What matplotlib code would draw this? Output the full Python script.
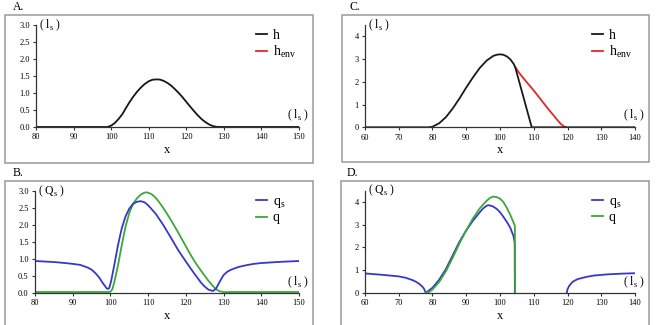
import numpy as np
import matplotlib
matplotlib.use("Agg")
import matplotlib.pyplot as plt
from matplotlib.patches import Rectangle

plt.rcParams["font.family"] = ["Liberation Serif", "DejaVu Serif"]
plt.rcParams["mathtext.fontset"] = "custom"
plt.rcParams["mathtext.rm"] = "Liberation Serif"

W, H = 658, 325

# ---- panel A: h (envelope coincides with h) ----
a_x = [80, 99, 100, 101, 102, 103, 104, 105, 106, 107, 108, 109, 110, 111, 112,
       113, 114, 115, 116, 117, 118, 119, 120, 121, 122, 123, 124, 125, 126,
       127, 128, 129, 150]
a_h = [0, 0, 0.04, 0.12, 0.24, 0.38, 0.57, 0.75, 0.91, 1.05, 1.17, 1.27, 1.345,
       1.39, 1.40, 1.395, 1.355, 1.295, 1.215, 1.11, 1.0, 0.875, 0.74, 0.605,
       0.475, 0.35, 0.24, 0.15, 0.08, 0.03, 0.005, 0, 0]

# ---- panel C: h and h_env ----
c_x = [60, 78.8, 80, 82, 84, 86, 88, 90, 92, 94, 96, 98, 99, 100, 101, 102, 103,
       104, 104.5, 109.4, 140]
c_h = [0, 0, 0.025, 0.18, 0.45, 0.83, 1.27, 1.75, 2.2, 2.61, 2.93, 3.14, 3.19,
       3.21, 3.19, 3.12, 3.0, 2.8, 2.65, 0, 0]
c_env_x = [104.5, 106, 108, 110, 112, 114, 115, 116, 117, 118, 119, 119.5]
c_env = [2.65, 2.33, 1.97, 1.62, 1.24, 0.86, 0.68, 0.5, 0.32, 0.15, 0.03, 0]

# ---- panel B: q_s and q ----
b_qs_x = [80, 85, 88, 90, 92, 94, 95, 96, 97, 98, 99, 99.3, 99.7, 100.2, 101,
          102, 103, 104, 105, 106, 107, 108, 109, 110, 112, 114, 116, 118, 120,
          122, 124, 125, 126, 127.2, 128, 129, 130, 131, 132, 134, 136, 138,
          140, 145, 150]
b_qs = [0.935, 0.905, 0.875, 0.85, 0.82, 0.74, 0.68, 0.58, 0.45, 0.28, 0.13,
        0.11, 0.14, 0.35, 0.8, 1.4, 1.9, 2.25, 2.48, 2.62, 2.68, 2.70, 2.67,
        2.58, 2.33, 2.0, 1.63, 1.25, 0.92, 0.6, 0.3, 0.18, 0.09, 0.05, 0.12,
        0.33, 0.52, 0.62, 0.68, 0.76, 0.81, 0.85, 0.875, 0.91, 0.935]
b_q_x = [80, 99.5, 100, 100.5, 101, 102, 103, 104, 105, 106, 107, 108, 109,
         109.5, 110, 111, 112, 113, 114, 115, 116, 117, 118, 119, 120, 121, 122,
         123, 124, 125, 126, 127, 128, 129, 130, 150]
b_q = [0.02, 0.02, 0.03, 0.1, 0.3, 0.8, 1.4, 1.95, 2.35, 2.62, 2.78, 2.89,
       2.95, 2.96, 2.95, 2.9, 2.8, 2.66, 2.5, 2.33, 2.15, 1.96, 1.77, 1.57,
       1.37, 1.17, 0.98, 0.81, 0.65, 0.5, 0.35, 0.22, 0.1, 0.04, 0.02, 0.02]

# ---- panel D: q_s and q ----
d_qs_x = [60, 65, 70, 72, 74, 75, 76, 77, 77.5, 78, 78.5, 80, 82, 84, 86, 88,
          90, 92, 94, 95, 96, 96.5, 97, 98, 99, 100, 101, 102, 103, 104, 104.35,
          104.4, np.nan, 119.8, 120, 120.5, 121.5, 123, 125.7, 128, 132, 136, 140]
d_qs = [0.85, 0.79, 0.72, 0.66, 0.56, 0.49, 0.40, 0.27, 0.17, 0.0, 0.05, 0.22,
        0.58, 1.05, 1.65, 2.25, 2.75, 3.18, 3.55, 3.72, 3.83, 3.86, 3.85, 3.8,
        3.7, 3.55, 3.35, 3.13, 2.88, 2.5, 2.2, 0, np.nan, 0, 0.15, 0.3, 0.48,
        0.6, 0.7, 0.76, 0.81, 0.84, 0.86]
d_q_x = [78, 79, 80, 82, 84, 86, 88, 90, 92, 94, 96, 97, 98, 99, 100, 101, 102,
         103, 104, 104.4, 104.5]
d_q = [0, 0.03, 0.14, 0.48, 0.95, 1.55, 2.18, 2.75, 3.28, 3.72, 4.05, 4.18,
       4.24, 4.22, 4.15, 4.0, 3.75, 3.45, 3.1, 2.95, 0]

BLACK = "#1a1a1a"
RED = "#e3262a"
BLUE = "#3838c8"
GREEN = "#3aa83a"
FRAME = "#9a9a9a"


def px_rect(l, t, r, b):
    return [l / W, 1 - b / H, (r - l) / W, (b - t) / H]


def style_axes(ax, xlim, xticks, ylim, yticks, yfmt):
    ax.set_xlim(*xlim)
    ax.set_ylim(*ylim)
    ax.set_xticks(xticks)
    ax.set_yticks(yticks)
    ax.set_yticklabels([yfmt.format(v) for v in yticks])
    for side in ("top", "right"):
        ax.spines[side].set_visible(False)
    for side in ("left", "bottom"):
        ax.spines[side].set_color("#333333")
        ax.spines[side].set_linewidth(0.9)
    ax.tick_params(direction="out", length=2.5, width=0.8, pad=2,
                   labelsize=6, color="#333333")
    ax.set_xlabel("x", fontsize=9, labelpad=2)
    ax.patch.set_alpha(0)


def unit_text(ax, ylab, xpos):
    ax.text(0.012, 1.0, "( " + ylab + " )", transform=ax.transAxes,
            fontsize=8.5, va="center", ha="left")
    ax.text(xpos[0], xpos[1], "( l$_\\mathregular{s}$ )", transform=ax.transAxes,
            fontsize=8.5, va="center", ha="left", clip_on=False)


fig = plt.figure(figsize=(W / 100, H / 100), dpi=100)

# gray frames around panels
for l, t, r, b in [(5, 15, 313, 163), (342, 15, 649, 162),
                   (5, 181, 313, 327), (341, 181, 649, 327)]:
    fig.add_artist(Rectangle((l / W, 1 - b / H), (r - l) / W, (b - t) / H,
                             transform=fig.transFigure, fill=False,
                             edgecolor=FRAME, linewidth=1.1))

for lab, x, y in [("A.", 13, 7.5), ("C.", 350, 7.5), ("B.", 13, 172.7), ("D.", 347, 172.7)]:
    fig.text(x / W, 1 - y / H, lab, fontsize=8.5, va="center", ha="left")

leg_kw = dict(loc="upper left", frameon=False, fontsize=10, handlelength=0.8,
              handletextpad=0.4, labelspacing=0.1, borderpad=0, borderaxespad=0)

# A
axA = fig.add_axes(px_rect(36, 25, 299, 127))
axA.plot(a_x, a_h, color=RED, lw=0.6, label="h$_\\mathregular{env}$")
axA.plot(a_x, a_h, color=BLACK, lw=1.3, label="h")
style_axes(axA, (80, 150), range(80, 151, 10), (0, 3.0), np.arange(0, 3.01, 0.5), "{:.1f}")
hs, ls = axA.get_legend_handles_labels()
leg = axA.legend(hs[::-1], ls[::-1], bbox_to_anchor=(0.837, 0.96), **leg_kw)
for line in leg.get_lines():
    line.set_linewidth(1.3)
unit_text(axA, "l$_\\mathregular{s}$", (0.954, 0.118))

# C
axC = fig.add_axes(px_rect(365, 25, 635, 127.3))
axC.plot(c_env_x, c_env, color=RED, lw=1.3, label="h$_\\mathregular{env}$")
axC.plot(c_x, c_h, color=BLACK, lw=1.3, label="h")
style_axes(axC, (60, 140), range(60, 141, 10), (0, 4.5), [0, 1, 2, 3, 4], "{:d}")
hs, ls = axC.get_legend_handles_labels()
axC.legend(hs[::-1], ls[::-1], bbox_to_anchor=(0.841, 0.96), **leg_kw)
unit_text(axC, "l$_\\mathregular{s}$", (0.956, 0.12))

# B
axB = fig.add_axes(px_rect(35, 191, 299, 292.7))
axB.plot(b_q_x, b_q, color=GREEN, lw=1.3, label="q")
axB.plot(b_qs_x, b_qs, color=BLUE, lw=1.3, label="q$_\\mathregular{s}$")
style_axes(axB, (80, 150), range(80, 151, 10), (0, 3.0), np.arange(0, 3.01, 0.5), "{:.1f}")
hs, ls = axB.get_legend_handles_labels()
axB.legend(hs[::-1], ls[::-1], bbox_to_anchor=(0.837, 0.96), **leg_kw)
unit_text(axB, "Q$_\\mathregular{s}$", (0.954, 0.098))

# D
axD = fig.add_axes(px_rect(365, 190.7, 635, 292.7))
axD.plot(d_qs_x, d_qs, color=BLUE, lw=1.3, label="q$_\\mathregular{s}$")
axD.plot(d_q_x, d_q, color=GREEN, lw=1.3, label="q")
style_axes(axD, (60, 140), range(60, 141, 10), (0, 4.5), [0, 1, 2, 3, 4], "{:d}")
axD.legend(bbox_to_anchor=(0.841, 0.96), **leg_kw)
unit_text(axD, "Q$_\\mathregular{s}$", (0.956, 0.098))

fig.savefig("out.png", dpi=100)
